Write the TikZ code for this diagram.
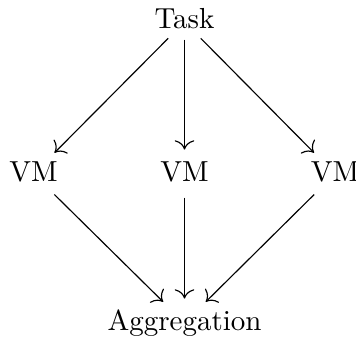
\documentclass[tikz,border=0pt]{standalone}
\usetikzlibrary{arrows.meta}
\begin{document}
\begin{tikzpicture}[x=0.345pt,y=-0.345pt,
  lbl/.style={inner sep=0pt, text height=6.83pt, text depth=1.94pt, anchor=base},
  tip/.style={-{Computer Modern Rightarrow[scale=1.3]}, line width=0.4pt},
  toparr/.style={tip, shorten <=1.5pt, shorten >=3.8pt},
  botarr/.style={tip, shorten <=3.6pt, shorten >=3.8pt}]
\useasboundingbox (0,0) rectangle (356,337);
\node[lbl] (task) at (184.5,29) {Task};
\node[lbl] (vm1) at (33.5,181) {VM};
\node[lbl] (vm2) at (184.5,181) {VM};
\node[lbl] (vm3) at (335,181) {VM};
\node[lbl] (agg) at (184.5,330) {Aggregation};
\draw[toparr] (task) -- (vm1);
\draw[toparr] (task) -- (vm2);
\draw[toparr] (task) -- (vm3);
\draw[botarr] (vm1) -- (agg);
\draw[botarr] (vm2) -- (agg);
\draw[botarr] (vm3) -- (agg);
\end{tikzpicture}
\end{document}
